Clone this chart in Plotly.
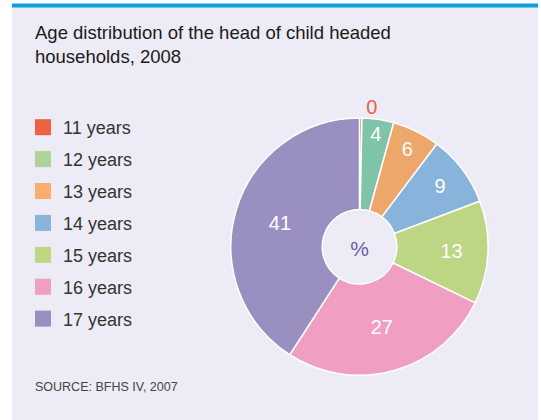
import plotly.graph_objects as go

# ---- data ----
categories = ["11 years", "12 years", "13 years", "14 years", "15 years", "16 years", "17 years"]
values = [0.3, 4, 6, 9, 13, 27, 41]
value_labels = ["0", "4", "6", "9", "13", "27", "41"]
slice_colors = ["#EE6044", "#7FC4A8", "#EDA76B", "#88B4DC", "#BDD683", "#F09EC1", "#9A8FC1"]
legend_colors = ["#EE6044", "#ACD49B", "#F8AE6E", "#88B4DC", "#BDD683", "#F09EC1", "#9A8FC1"]
title_text = "Age distribution of the head of child headed<br>households, 2008"
source_text = "SOURCE: BFHS IV, 2007"

W, H = 541, 420
FONT = "Liberation Sans"

fig = go.Figure()

text_pos = ["outside"] + ["inside"] * (len(values) - 1)
text_colors = [slice_colors[0]] + ["white"] * (len(values) - 1)

fig.add_trace(go.Pie(
    labels=categories,
    values=values,
    text=value_labels,
    textinfo="text",
    textposition=text_pos,
    insidetextorientation="horizontal",
    textfont=dict(family=FONT, size=20, color=text_colors),
    sort=False,
    direction="clockwise",
    rotation=0,
    hole=0.29,
    marker=dict(colors=slice_colors, line=dict(color="white", width=1.5)),
    title=dict(text="%", position="middle center", font=dict(family=FONT, size=21, color="#6B5FA8")),
    domain=dict(x=[230.9 / W, 488.1 / W], y=[44.7 / H, 301.9 / H]),
    showlegend=False,
    hoverinfo="label+text",
))

for i, (cat, col) in enumerate(zip(categories, legend_colors)):
    fig.add_trace(go.Scatter(
        x=[None], y=[None], mode="markers", name=cat,
        legendgroup=f"g{i}",
        marker=dict(symbol="square", size=18, color=col),
    ))

fig.update_layout(
    width=W, height=H,
    margin=dict(l=0, r=0, t=0, b=0),
    paper_bgcolor="white",
    plot_bgcolor="rgba(0,0,0,0)",
    xaxis=dict(visible=False),
    yaxis=dict(visible=False),
    legend=dict(
        x=23 / W, y=1 - 109 / H, xanchor="left", yanchor="top",
        bgcolor="rgba(0,0,0,0)",
        font=dict(family=FONT, size=18, color="#333333"),
        tracegroupgap=5.5,
        itemclick=False, itemdoubleclick=False,
    ),
    shapes=[
        dict(type="rect", xref="paper", yref="paper", layer="below",
             x0=12 / W, x1=538 / W, y0=0, y1=1 - 7 / H,
             fillcolor="#EDEBF5", line=dict(width=0)),
        dict(type="rect", xref="paper", yref="paper", layer="below",
             x0=12 / W, x1=538 / W, y0=1 - 7.5 / H, y1=1 - 3.5 / H,
             fillcolor="#0BA0E0", line=dict(width=0)),
    ],
    annotations=[
        dict(text=title_text, xref="paper", yref="paper", x=33 / W, y=1 - 20 / H,
             xanchor="left", yanchor="top", showarrow=False, align="left",
             font=dict(family=FONT, size=18.5, color="#1A1A1A")),
        dict(text=source_text, xref="paper", yref="paper", x=33 / W, y=1 - 387 / H,
             xanchor="left", yanchor="middle", showarrow=False, align="left",
             font=dict(family=FONT, size=12.5, color="#444444")),
    ],
)

fig.write_html(
    "out.html", config={"displayModeBar": False},
    post_script=("var d=document.getElementById('{plot_id}');"
                 "d.style.position='fixed';d.style.left='0px';d.style.top='0px';"
                 "document.body.style.overflow='hidden';"),
)
